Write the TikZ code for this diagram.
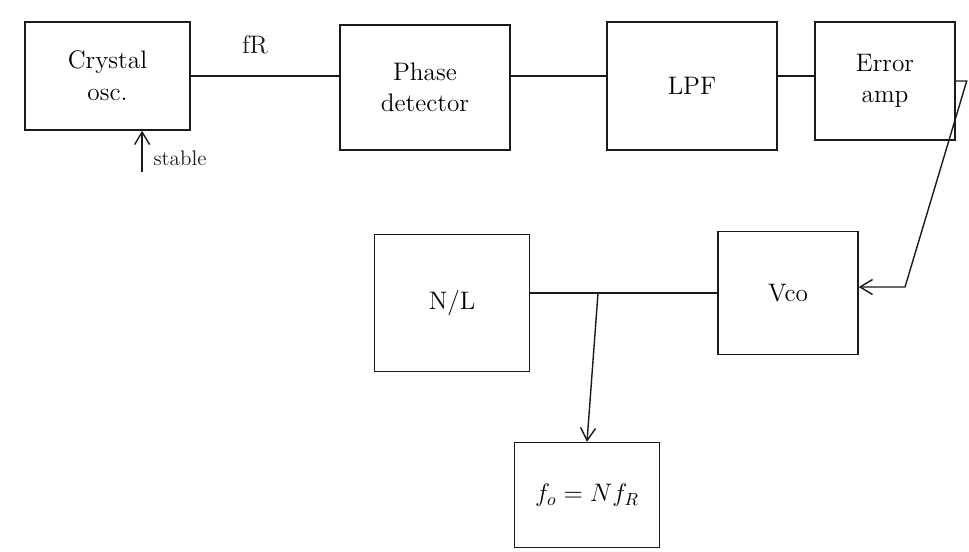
\documentclass[tikz,border=0pt]{standalone}
\usepackage{tikz}
\usetikzlibrary{arrows.meta,positioning,calc}
\definecolor{inkline}{HTML}{1A1A1A}
\tikzset{
  blocknode/.style={draw=inkline,thick,align=center,font=\Large,inner sep=2pt},
  wire/.style={thick,inkline},
  arrow/.style={-{Straight Barb[length=2.5mm,width=3mm]},thick,inkline},
  label/.style={font=\Large,text=inkline}
}
\begin{document}
\begin{tikzpicture}
  \useasboundingbox (0,0) rectangle (19.38,-11.02);

  % Top row: reference, comparison and filtering
  \node[blocknode,minimum width=3.3cm,minimum height=2.16cm] (crystal) at (2.15,-1.52) {Crystal\\osc.};
  \node[blocknode,minimum width=3.4cm,minimum height=2.5cm] (phasedet) at (8.5,-1.75) {Phase\\detector};
  \node[blocknode,minimum width=3.4cm,minimum height=2.56cm] (lpf) at (13.84,-1.72) {LPF};
  \node[blocknode,minimum width=2.8cm,minimum height=2.36cm] (erramp) at (17.7,-1.62) {Error\\amp};

  % Bottom: oscillator, divider and output
  \node[blocknode,minimum width=2.8cm,minimum height=2.46cm] (vco) at (15.76,-5.86) {Vco};
  \node[blocknode,minimum width=3.1cm,minimum height=2.74cm] (divider) at (9.04,-6.06) {N/L};
  \node[blocknode,minimum width=2.9cm,minimum height=2.1cm] (fout) at (11.74,-9.9) {$f_o = N f_R$};

  \node[label] (fr) at (5.1,-0.9) {fR};
  \node[label,font=\large] (stable) at (3.6,-3.16) {stable};

  \coordinate (turn) at (18.1,-5.74);
  \coordinate (tap) at (11.96,-5.86);

  \draw[wire] (crystal.east) -- (crystal.east -| phasedet.west);
  \draw[wire] (lpf.west |- crystal.east) -- (phasedet.east |- crystal.east);
  \draw[wire] (erramp.west |- crystal.east) -- (lpf.east |- crystal.east);
  \draw[arrow] (erramp.east) -- ++(0.22,0) -- (turn) -- (vco.east |- turn);
  \draw[wire] (divider.east |- vco.west) -- (vco.west);
  \draw[arrow] (tap) -- (fout.north);
  \draw[arrow] ([xshift=-3pt]stable.south west) -- ([xshift=-3pt]stable.south west |- crystal.south);
\end{tikzpicture}
\end{document}
